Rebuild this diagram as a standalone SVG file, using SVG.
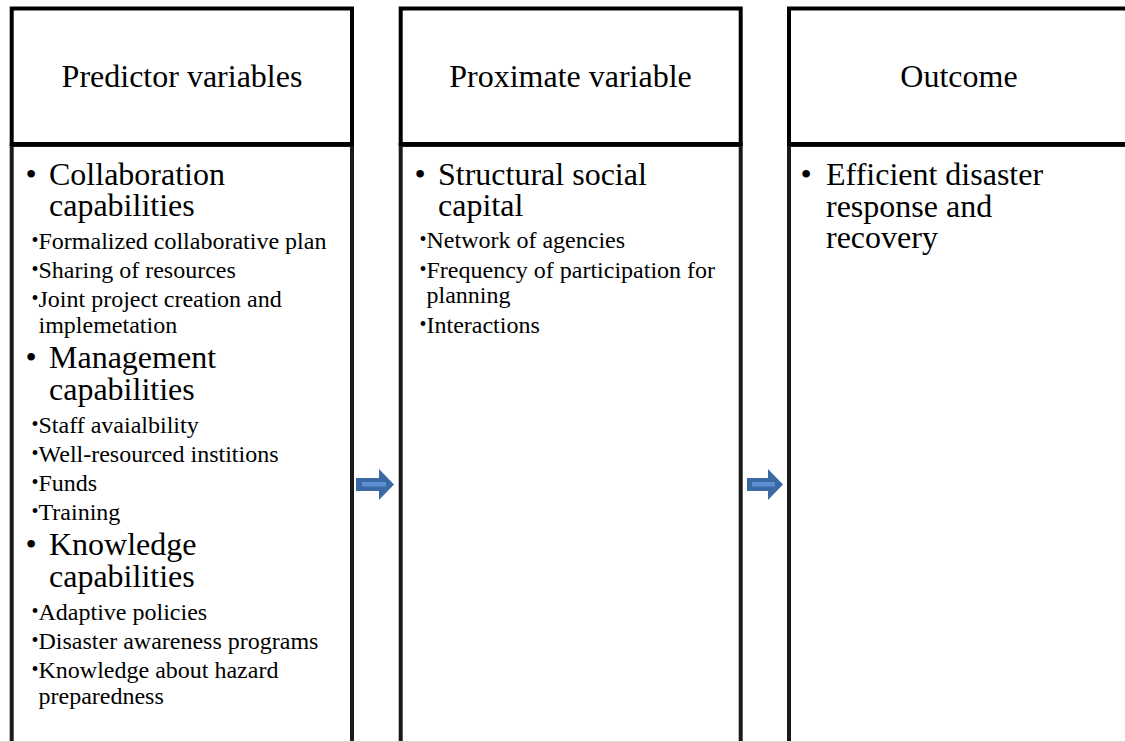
<svg xmlns="http://www.w3.org/2000/svg" width="1125" height="742" viewBox="0 0 1125 742">
  <style>
    .head { fill: #fff; stroke: #000; stroke-width: 4; }
    .body { fill: #fff; stroke: #1a1a1a; stroke-width: 4; }
    text { font-family: "Liberation Serif", "Times New Roman", serif; fill: #000; }
    .title { font-size: 32px; text-anchor: middle; }
    .big { font-size: 32px; }
    .small { font-size: 24px; }
    .bb { font-size: 32px; }
    .sb { font-size: 20px; }
    .arrow { fill: #3b69a3; }
    .stripe { fill: #5d8fd3; }
  </style>
  <rect width="1125" height="742" fill="#fff"/>

  <!-- Column 1: predictors -->
  <g id="predictors">
    <rect class="body" x="11.7" y="145" width="340.3" height="620"/>
    <rect class="head" x="11.7" y="8.5" width="340.3" height="135.5"/>
    <text class="title" x="182" y="87">Predictor variables</text>
    <text class="bb" x="25.4" y="185">•</text>
    <text class="big" x="49" y="185">Collaboration</text>
    <text class="big" x="49" y="216">capabilities</text>
    <text class="sb" x="31.5" y="247">•</text>
    <text class="small" x="38.5" y="249">Formalized collaborative plan</text>
    <text class="sb" x="31.5" y="276">•</text>
    <text class="small" x="38.5" y="278">Sharing of resources</text>
    <text class="sb" x="31.5" y="305">•</text>
    <text class="small" x="38.5" y="307">Joint project creation and</text>
    <text class="small" x="38.5" y="333">implemetation</text>
    <text class="bb" x="25.4" y="368">•</text>
    <text class="big" x="49" y="368">Management</text>
    <text class="big" x="49" y="400">capabilities</text>
    <text class="sb" x="31.5" y="431">•</text>
    <text class="small" x="38.5" y="433">Staff avaialbility</text>
    <text class="sb" x="31.5" y="460">•</text>
    <text class="small" x="38.5" y="462">Well-resourced institions</text>
    <text class="sb" x="31.5" y="489">•</text>
    <text class="small" x="38.5" y="491">Funds</text>
    <text class="sb" x="31.5" y="518">•</text>
    <text class="small" x="38.5" y="520">Training</text>
    <text class="bb" x="25.4" y="555">•</text>
    <text class="big" x="49" y="555">Knowledge</text>
    <text class="big" x="49" y="587">capabilities</text>
    <text class="sb" x="31.5" y="618">•</text>
    <text class="small" x="38.5" y="620">Adaptive policies</text>
    <text class="sb" x="31.5" y="647">•</text>
    <text class="small" x="38.5" y="649">Disaster awareness programs</text>
    <text class="sb" x="31.5" y="676">•</text>
    <text class="small" x="38.5" y="678">Knowledge about hazard</text>
    <text class="small" x="38.5" y="704">preparedness</text>
  </g>

  <!-- Column 2: proximate variable -->
  <g id="proximate">
    <rect class="body" x="400.7" y="145" width="340" height="620"/>
    <rect class="head" x="400.7" y="8.5" width="340" height="135.5"/>
    <text class="title" x="570.5" y="87">Proximate variable</text>
    <text class="bb" x="414.4" y="185">•</text>
    <text class="big" x="438" y="185">Structural social</text>
    <text class="big" x="438" y="216">capital</text>
    <text class="sb" x="419.5" y="246">•</text>
    <text class="small" x="426.5" y="248">Network of agencies</text>
    <text class="sb" x="419.5" y="276">•</text>
    <text class="small" x="426.5" y="278">Frequency of participation for</text>
    <text class="small" x="426.5" y="303">planning</text>
    <text class="sb" x="419.5" y="331">•</text>
    <text class="small" x="426.5" y="333">Interactions</text>
  </g>

  <!-- Column 3: outcome -->
  <g id="outcome">
    <rect class="body" x="789" y="145" width="340" height="620"/>
    <rect class="head" x="789" y="8.5" width="340" height="135.5"/>
    <text class="title" x="959" y="87">Outcome</text>
    <text class="bb" x="800.5" y="185">•</text>
    <text class="big" x="826" y="185">Efficient disaster</text>
    <text class="big" x="826" y="217">response and</text>
    <text class="big" x="826" y="248">recovery</text>
  </g>

  <!-- Block arrows between the columns -->
  <g id="connectors">
    <path class="arrow" d="M356 478 H379 V469 L394 484.5 L379 500 V491 H356 Z"/>
    <rect class="stripe" x="362" y="482" width="24" height="4.5"/>
    <path class="arrow" d="M747 478 H768 V469 L783 484.5 L768 500 V491 H747 Z"/>
    <rect class="stripe" x="752" y="482" width="23" height="4.5"/>
  </g>

  <line x1="0" y1="741.5" x2="1125" y2="741.5" stroke="#d6d6d6" stroke-width="1"/>
</svg>
